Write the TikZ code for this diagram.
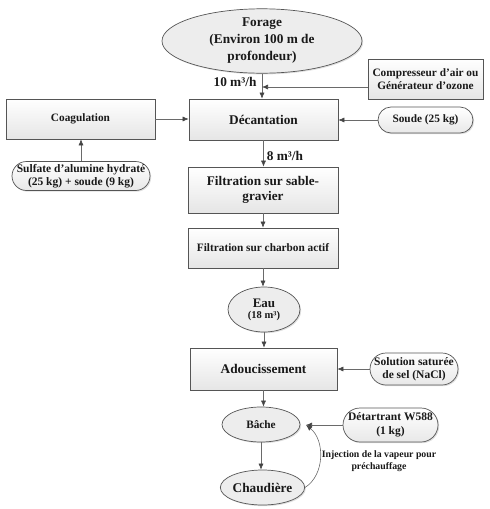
\documentclass[tikz,border=0pt]{standalone}
\usepackage{fontspec}
\setmainfont{Liberation Serif}
\usetikzlibrary{shapes.geometric,shadows,arrows.meta}
\definecolor{edge}{HTML}{555555}
\definecolor{linec}{HTML}{6A6A6A}
\definecolor{tipc}{HTML}{444444}
\tikzset{
  base/.style={draw=edge, line width=0.7pt, text=black!90, font=\bfseries, align=center, inner sep=0pt,
    drop shadow={shadow xshift=1.2pt, shadow yshift=-1.2pt, opacity=0.25}},
  boxn/.style={base, rectangle, top color=white, bottom color=black!10},
  ellip/.style={base, ellipse, fill=black!7},
  stad/.style={base, rectangle, top color=white, bottom color=black!9},
  arr/.style={draw=linec, line width=0.6pt, -{Latex[length=6pt,width=5pt,color=tipc]}},
  big/.style={font=\fontsize{13.3}{17}\selectfont\bfseries},
  mid/.style={font=\fontsize{11.3}{13.5}\selectfont\bfseries},
  lbl/.style={text=black!90, inner sep=0pt}
}
\begin{document}
\begin{tikzpicture}[x=1pt,y=-1pt]
\useasboundingbox (0,0) rectangle (490,509);
% nodes
\node[ellip, big, minimum width=200, minimum height=56] (forage) at (262,41)
  {Forage\\(Environ 100 m de\\profondeur)};
\node[boxn, mid, minimum width=115, minimum height=40, font=\fontsize{11.3}{13}\selectfont\bfseries] (comp) at (425.5,79)
  {Compresseur d’air ou\\Générateur d’ozone};
\node[boxn, big, minimum width=149, minimum height=41] (dec) at (263.5,119.5) {Décantation};
\node[stad, mid, rounded corners=13pt, minimum width=95, minimum height=26] (soude) at (425.5,120) {Soude (25 kg)};
\node[boxn, mid, minimum width=149, minimum height=40] (coag) at (80.5,119) {Coagulation};
\node[stad, minimum width=138, minimum height=29, rounded corners=14.5pt, font=\fontsize{11.5}{12.7}\selectfont\bfseries] (sulf) at (81,176)
  {Sulfate d’alumine hydraté\\(25 kg) + soude (9 kg)};
\node[boxn, big, minimum width=150, minimum height=46, font=\fontsize{13.2}{15.7}\selectfont\bfseries] (sable) at (263,190)
  {Filtration sur sable-\\gravier};
\node[boxn, mid, minimum width=150, minimum height=40] (charb) at (263,248) {Filtration sur charbon actif};
\node[ellip, minimum width=72, minimum height=45] (eau) at (264,309.5)
  {{\fontsize{13}{14}\selectfont Eau}\\[-1pt]{\fontsize{10.5}{12}\selectfont (18 m³)}};
\node[boxn, big, minimum width=147, minimum height=42] (adou) at (263.5,369) {Adoucissement};
\node[stad, mid, rounded corners=16pt, minimum width=88, minimum height=32, font=\fontsize{11.5}{13}\selectfont\bfseries] (sel) at (414,369)
  {Solution saturée\\de sel (NaCl)};
\node[ellip, mid, minimum width=78, minimum height=35] (bache) at (261,424.5) {Bâche};
\node[ellip, big, minimum width=81, minimum height=35] (chaud) at (262.5,487.5) {Chaudière};
\node[stad, rounded corners=17pt, minimum width=95, minimum height=34, font=\fontsize{11.5}{13.5}\selectfont\bfseries] (detar) at (390.5,425)
  {Détartrant W588\\(1 kg)};
\coordinate (tip) at (306,425);
\coordinate (j1) at (262,87);
% labels
\node[lbl, big] (q10) at (235,82) {10 m³/h};
\node[lbl, big] (q8) at (285,156) {8 m³/h};
\node[lbl, align=center, font=\fontsize{9.8}{12.5}\selectfont\bfseries] (inj) at (379,461)
  {Injection de la vapeur pour\\préchauffage};
% connectors
\draw[arr] (forage.south) -- (forage.south |- dec.north);
\draw[arr] (comp.west |- j1) -- (j1);
\draw[arr] (soude.west) -- (dec.east |- soude.west);
\draw[arr] (coag.east) -- (dec.west |- coag.east);
\draw[arr] (sulf.north) -- (sulf.north |- coag.south);
\draw[arr] (dec.south) -- (dec.south |- sable.north);
\draw[arr] (sable.south) -- (sable.south |- charb.north);
\draw[arr] (charb.south) -- (charb.south |- eau.north);
\draw[arr] (eau.south) -- (eau.south |- adou.north);
\draw[arr] (sel.west) -- (adou.east |- sel.west);
\draw[arr] (adou.south) -- (adou.south |- bache.north);
\draw[arr] (bache.south) -- (bache.south |- chaud.north);
\draw[arr] (detar.west) -- (tip);
\draw[arr] (chaud.east) .. controls (325,475) and (325,440) .. (tip);
\end{tikzpicture}
\end{document}
